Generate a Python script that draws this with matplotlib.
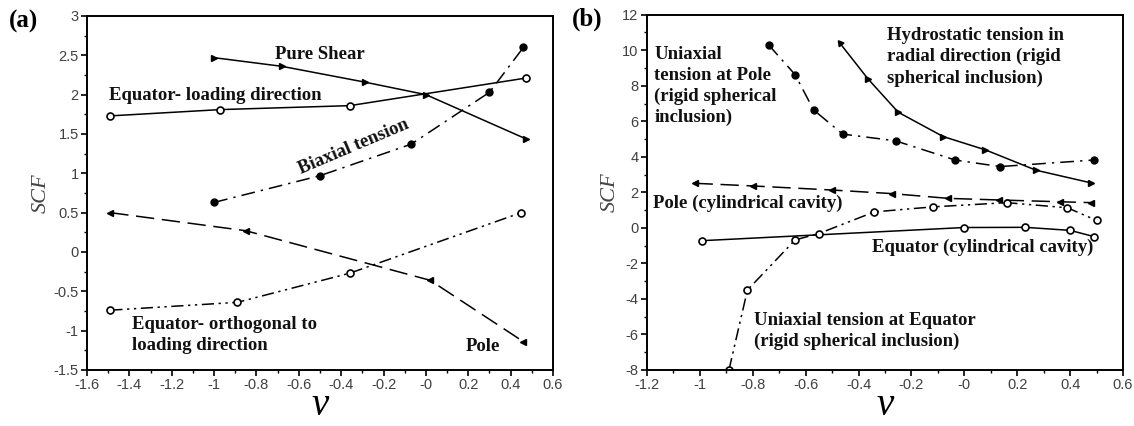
import matplotlib
matplotlib.use("Agg")
import matplotlib.pyplot as plt
from matplotlib.ticker import MultipleLocator

# ---- panel (a) data ----
eq_load_x = [-1.49, -0.97, -0.36, 0.47]
eq_load_y = [1.73, 1.81, 1.86, 2.21]

shear_x = [-1.0, -0.68, -0.29, 0.0, 0.47]
shear_y = [2.47, 2.36, 2.16, 2.0, 1.44]

biax_x = [-1.0, -0.5, -0.07, 0.30, 0.46]
biax_y = [0.63, 0.97, 1.37, 2.03, 2.60]

pole_a_x = [-1.49, -0.85, 0.02, 0.46]
pole_a_y = [0.50, 0.27, -0.36, -1.14]

eq_orth_x = [-1.49, -0.89, -0.36, 0.45]
eq_orth_y = [-0.74, -0.64, -0.27, 0.50]

a_xticks = [-1.6, -1.4, -1.2, -1.0, -0.8, -0.6, -0.4, -0.2, 0.0, 0.2, 0.4, 0.6]
a_xlabels = ["-1.6", "-1.4", "-1.2", "-1", "-0.8", "-0.6", "-0.4", "-0.2", "-0", "0.2", "0.4", "0.6"]
a_yticks = [-1.5, -1.0, -0.5, 0.0, 0.5, 1.0, 1.5, 2.0, 2.5, 3.0]
a_ylabels = ["-1.5", "-1", "-0.5", "0", "0.5", "1", "1.5", "2", "2.5", "3"]

# ---- panel (b) data ----
hydro_x = [-0.47, -0.365, -0.25, -0.08, 0.08, 0.27, 0.48]
hydro_y = [10.39, 8.40, 6.51, 5.14, 4.39, 3.25, 2.53]

uni_pole_x = [-0.74, -0.64, -0.57, -0.46, -0.26, -0.035, 0.135, 0.49]
uni_pole_y = [10.30, 8.63, 6.64, 5.28, 4.90, 3.82, 3.45, 3.82]

pole_cyl_x = [-1.02, -0.80, -0.50, -0.275, -0.06, 0.13, 0.36, 0.48]
pole_cyl_y = [2.51, 2.36, 2.13, 1.93, 1.66, 1.57, 1.47, 1.42]

eq_cyl_x = [-0.99, 0.0, 0.23, 0.40, 0.49]
eq_cyl_y = [-0.72, 0.02, 0.03, -0.14, -0.49]

uni_eq_x = [-0.89, -0.82, -0.64, -0.55, -0.34, -0.12, 0.16, 0.39, 0.50]
uni_eq_y = [-8.0, -3.5, -0.68, -0.32, 0.90, 1.18, 1.42, 1.13, 0.42]

b_xticks = [-1.2, -1.0, -0.8, -0.6, -0.4, -0.2, 0.0, 0.2, 0.4, 0.6]
b_xlabels = ["-1.2", "-1", "-0.8", "-0.6", "-0.4", "-0.2", "-0", "0.2", "0.4", "0.6"]
b_yticks = [-8, -6, -4, -2, 0, 2, 4, 6, 8, 10, 12]
b_ylabels = ["-8", "-6", "-4", "-2", "0", "2", "4", "6", "8", "10", "12"]

serif = "Liberation Serif"
sans = "Liberation Sans"
tick_color = "#404040"

long_dash = (0, (12, 5))
dash_dot = (0, (9, 4, 1.5, 4))
dash_dot_dot = (0, (8, 3, 1.5, 3, 1.5, 3))

fig = plt.figure(figsize=(11.34, 4.26), dpi=100)
ax1 = fig.add_axes([0.0767, 0.1315, 0.411, 0.831])
ax2 = fig.add_axes([0.5705, 0.1315, 0.4198, 0.834])


def style_axes(ax, xlim, ylim, xt, xl, yt, yl, xminor, yminor):
    ax.set_xlim(xlim)
    ax.set_ylim(ylim)
    ax.set_xticks(xt, labels=xl)
    ax.set_yticks(yt, labels=yl)
    ax.xaxis.set_minor_locator(MultipleLocator(xminor))
    ax.yaxis.set_minor_locator(MultipleLocator(yminor))
    ax.tick_params(which="major", direction="out", length=4, width=1.2, pad=2,
                   labelsize=10.5, labelcolor=tick_color, top=False, right=False)
    ax.tick_params(which="minor", direction="out", length=2.5, width=1.0,
                   top=False, right=False)
    for lab in ax.get_xticklabels() + ax.get_yticklabels():
        lab.set_family(sans)
    for sp in ax.spines.values():
        sp.set_linewidth(1.4)
    ax.set_xlabel("ν", fontsize=28, family=serif, style="italic", labelpad=-4)
    ax.set_ylabel("SCF", fontsize=16, family=serif, style="italic",
                  color="#444444", labelpad=2)


lw = 1.1
ms = 5

# panel (a)
ax1.plot(eq_load_x, eq_load_y, "-", color="k", lw=lw, marker="o", ms=ms,
         mfc="white", mec="k", mew=1.2)
ax1.plot(shear_x, shear_y, "-", color="k", lw=lw, marker=">", ms=ms)
ax1.plot(biax_x, biax_y, color="k", lw=lw, ls=dash_dot, marker="o", ms=ms)
ax1.plot(pole_a_x, pole_a_y, color="k", lw=lw, ls=long_dash, marker="<", ms=ms)
ax1.plot(eq_orth_x, eq_orth_y, color="k", lw=lw, ls=dash_dot_dot, marker="o",
         ms=ms, mfc="white", mec="k", mew=1.2)

style_axes(ax1, (-1.6, 0.6), (-1.5, 3.0), a_xticks, a_xlabels, a_yticks,
           a_ylabels, 0.1, 0.25)

tfont = dict(family=serif, weight="bold", fontsize=13.5, color="#111111")
ax1.text(-0.50, 2.51, "Pure Shear", ha="center", va="center", **tfont)
ax1.text(-1.495, 1.985, "Equator- loading direction", ha="left", va="center", **tfont)
ax1.text(-0.34, 1.34, "Biaxial tension", ha="center", va="center", rotation=23,
         rotation_mode="anchor", **tfont)
ax1.text(-1.387, -1.06, "Equator- orthogonal to\nloading direction", ha="left",
         va="center", linespacing=1.3, **tfont)
ax1.text(0.267, -1.2, "Pole", ha="center", va="center", **tfont)

# panel (b)
ax2.plot(hydro_x, hydro_y, "-", color="k", lw=lw, marker=">", ms=ms,
         markevery=slice(1, None))
ax2.plot(hydro_x[:1], hydro_y[:1], ls="none", color="k", marker=(3, 0, 38), ms=ms)
ax2.plot(uni_pole_x, uni_pole_y, color="k", lw=lw, ls=dash_dot, marker="o", ms=ms)
ax2.plot(pole_cyl_x, pole_cyl_y, color="k", lw=lw, ls=long_dash, marker="<", ms=ms)
ax2.plot(eq_cyl_x, eq_cyl_y, "-", color="k", lw=lw, marker="o", ms=ms,
         mfc="white", mec="k", mew=1.2)
ax2.plot(uni_eq_x, uni_eq_y, color="k", lw=lw, ls=dash_dot_dot, marker="o",
         ms=ms, mfc="white", mec="k", mew=1.2)

style_axes(ax2, (-1.2, 0.6), (-8, 12), b_xticks, b_xlabels, b_yticks,
           b_ylabels, 0.1, 1)

ax2.text(-1.172, 7.98, "Uniaxial\ntension at Pole\n(rigid spherical\ninclusion)",
         ha="left", va="center", linespacing=1.3, **tfont)
ax2.text(-0.292, 9.63, "Hydrostatic tension in\nradial direction (rigid\nspherical inclusion)",
         ha="left", va="center", linespacing=1.3, **tfont)
ax2.text(-1.176, 1.38, "Pole (cylindrical cavity)", ha="left", va="center", **tfont)
ax2.text(0.487, -1.08, "Equator (cylindrical cavity)", ha="right", va="center", **tfont)
ax2.text(-0.796, -5.8, "Uniaxial tension at Equator\n(rigid spherical inclusion)",
         ha="left", va="center", linespacing=1.3, **tfont)

fig.text(0.021, 0.949, "(a)", family=serif, weight="bold", fontsize=18,
         ha="center", va="center")
fig.text(0.518, 0.955, "(b)", family=serif, weight="bold", fontsize=18,
         ha="center", va="center")

fig.savefig("out.png", dpi=100)
